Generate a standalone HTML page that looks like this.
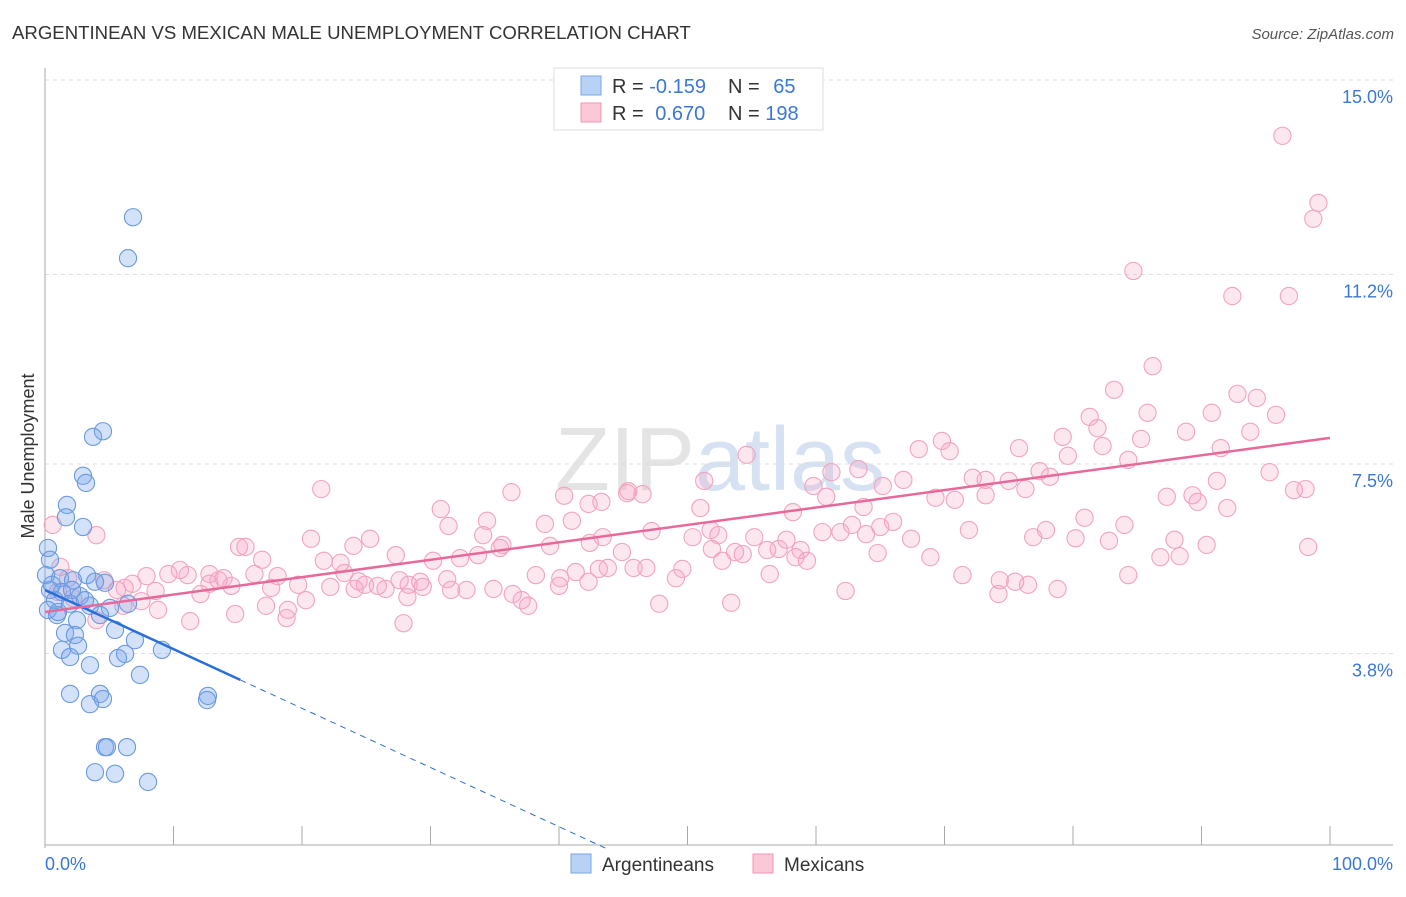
<!DOCTYPE html>
<html><head><meta charset="utf-8"><style>
body{margin:0;background:#fff;font-family:"Liberation Sans",sans-serif;}
svg text{font-family:"Liberation Sans",sans-serif;}
</style></head><body>
<svg id="chart" width="1406" height="892" xmlns="http://www.w3.org/2000/svg">
<text x="12" y="39" font-size="18.6" fill="#333">ARGENTINEAN VS MEXICAN MALE UNEMPLOYMENT CORRELATION CHART</text>
<text x="1394" y="39" font-size="15" fill="#555" font-style="italic" text-anchor="end">Source: ZipAtlas.com</text>
<text x="720" y="490" font-size="90" fill="#e4e4e4" text-anchor="middle" font-family="Liberation Serif">ZIP<tspan fill="#d6e2f2" font-family="Liberation Sans">atlas</tspan></text>
<g id="grid"></g><g id="axes"></g><g id="pinkpts"></g><g id="bluepts"></g><g id="lines"></g>
<text transform="translate(34,456) rotate(-90)" font-size="18" fill="#333" text-anchor="middle">Male Unemployment</text>
<g>
<rect x="554" y="68" width="269" height="62" fill="#fff" stroke="#ddd"/>
<rect x="581" y="76" width="20" height="19" fill="#b8d2f5" stroke="#7aa6e6"/>
<rect x="581" y="103" width="20" height="19" fill="#fbc8d8" stroke="#f095b5"/>
<text x="612" y="93" font-size="20" fill="#333">R = <tspan fill="#3a78d6">-0.159</tspan></text>
<text x="728" y="93" font-size="20" fill="#333">N = <tspan fill="#3a78d6" dx="8">65</tspan></text>
<text x="612" y="120" font-size="20" fill="#333">R = <tspan fill="#3a78d6" dx="6">0.670</tspan></text>
<text x="728" y="120" font-size="20" fill="#333">N = <tspan fill="#3a78d6">198</tspan></text>
</g>
<g>
<rect x="571" y="854" width="20" height="19" fill="#b8d2f5" stroke="#7aa6e6"/>
<text x="602" y="871" font-size="19" fill="#333">Argentineans</text>
<rect x="753" y="854" width="20" height="19" fill="#fbc8d8" stroke="#f095b5"/>
<text x="784" y="871" font-size="19" fill="#333">Mexicans</text>
</g>
</svg>
<script>
const yTicks=[3.8,7.5,11.2,15.0];
const yTickLabels=["3.8%","7.5%","11.2%","15.0%"];
const xTickCount=10;
const blueX=[6.85,6.46,4.51,3.74,2.96,3.19,1.71,1.63,2.96,0.23,0.39,0.08,1.17,2.18,3.27,4.67,3.89,0.39,1.32,2.72,0.78,1.95,3.50,5.06,6.46,0.93,2.49,4.28,1.56,2.33,5.45,7.00,1.32,2.57,1.95,3.50,5.68,6.23,9.10,7.39,1.95,4.28,4.51,3.50,12.68,12.61,4.67,4.82,6.38,3.89,5.45,8.02,0.54,0.23,1.01,3.11,2.10];
const blueY=[12.32,11.52,8.14,8.03,7.27,7.13,6.70,6.46,6.27,5.86,5.63,5.33,5.27,5.23,5.33,5.18,5.20,5.04,5.00,4.92,4.84,4.77,4.73,4.69,4.77,4.55,4.45,4.55,4.20,4.16,4.26,4.06,3.87,3.95,3.73,3.57,3.71,3.79,3.87,3.38,3.01,3.01,2.91,2.81,2.97,2.89,1.97,1.97,1.97,1.48,1.45,1.29,5.14,4.65,4.61,4.84,5.04];
const pinkX=[96.3,99.1,98.7,84.7,92.4,96.8,86.2,83.2,92.8,94.3,81.3,85.8,90.8,95.8,81.9,79.2,85.3,88.8,93.8,69.8,68.0,75.8,82.3,91.5,54.6,70.4,79.6,84.3,61.2,63.3,77.4,73.2,75.0,78.2,95.3,51.3,65.2,72.2,66.8,91.2,21.5,36.3,59.8,60.8,76.3,98.1,97.2,40.4,45.3,46.5,45.4,70.8,69.3,73.2,87.3,89.3,89.7,30.8,63.7,51.0,42.3,43.3,34.4,38.9,41.0,58.2,92.0,31.4,60.5,62.8,65.0,66.0,71.9,80.9,84.0,20.7,25.3,27.3,24.0,34.1,35.6,42.4,43.4,47.2,50.4,51.8,52.4,55.2,57.1,57.7,61.9,63.9,67.4,76.9,77.9,80.2,82.8,87.9,90.4,98.3,86.8,88.3,15.1,15.6,16.9,23.0,30.2,32.3,33.7,35.4,39.3,44.9,51.9,52.7,53.7,54.3,56.2,58.4,58.8,59.3,64.8,68.9,9.6,10.5,11.1,12.8,13.9,16.3,18.1,21.7,23.3,24.4,25.9,27.6,29.2,31.3,38.2,40.1,41.3,43.1,43.8,45.8,46.8,49.1,49.6,56.4,71.4,75.5,78.8,84.3,1.2,1.8,1.0,2.2,4.6,5.6,6.2,6.8,7.9,8.6,7.5,8.8,12.1,12.8,13.5,14.5,17.6,17.2,19.7,20.3,18.9,22.2,24.1,24.9,26.5,28.3,29.4,28.2,31.6,32.8,34.9,36.4,37.1,37.6,40.0,42.3,47.8,53.4,62.3,74.2,76.5,74.3,4.0,6.1,11.3,14.8,18.8,27.9,0.6,4.0];
const pinkY=[13.91,12.60,12.29,11.27,10.78,10.78,9.41,8.95,8.87,8.79,8.42,8.50,8.50,8.46,8.20,8.03,7.99,8.13,8.13,7.95,7.79,7.81,7.85,7.81,7.68,7.75,7.66,7.58,7.34,7.40,7.36,7.19,7.17,7.25,7.34,7.17,7.07,7.23,7.19,7.17,7.01,6.95,7.07,6.86,7.01,7.01,6.99,6.88,6.93,6.91,6.97,6.80,6.84,6.89,6.86,6.89,6.76,6.62,6.66,6.64,6.72,6.76,6.39,6.33,6.39,6.56,6.64,6.29,6.17,6.31,6.27,6.37,6.21,6.45,6.31,6.04,6.04,5.72,5.90,6.11,5.92,5.96,6.07,6.19,6.07,6.21,6.11,6.07,5.84,6.02,6.17,6.13,6.04,6.07,6.21,6.05,6.00,6.02,5.92,5.88,5.68,5.70,5.88,5.88,5.63,5.57,5.61,5.66,5.72,5.86,5.90,5.78,5.84,5.61,5.78,5.74,5.82,5.68,5.82,5.61,5.76,5.68,5.35,5.43,5.33,5.35,5.27,5.35,5.31,5.61,5.37,5.21,5.12,5.23,5.20,5.25,5.33,5.27,5.39,5.45,5.47,5.47,5.47,5.27,5.45,5.35,5.33,5.20,5.06,5.33,5.49,5.27,5.00,4.88,5.23,5.04,5.08,5.16,5.31,5.02,4.82,4.65,4.96,5.16,5.23,5.12,5.08,4.73,5.14,4.84,4.65,5.10,5.06,5.14,5.06,5.14,5.10,4.90,5.04,5.04,5.06,4.96,4.84,4.73,5.12,5.20,4.77,4.79,5.02,4.96,5.14,5.23,4.45,4.73,4.43,4.57,4.49,4.39,6.31,6.11];
const blueTrend=[5.04,-0.1156]; // intercept, slope per %
const blueSolidEnd=15.2;
const pinkTrend=[4.61,0.034];
const NS="http://www.w3.org/2000/svg";
const X0=45,X1=1330,YB=848,YS=51.2;
function sx(v){return X0+(X1-X0)*v/100;}
function sy(v){return YB-v*YS;}
function mk(tag,attrs,parent){const e=document.createElementNS(NS,tag);for(const k in attrs)e.setAttribute(k,attrs[k]);document.getElementById(parent).appendChild(e);return e;}
yTicks.forEach((t,i)=>{
 const g=mk('line',{x1:X0,x2:1393,y1:sy(t),y2:sy(t),stroke:'#ddd','stroke-dasharray':'4,4'},'grid');
 
 
 const l=mk('text',{x:1393,y:sy(t)+23,'font-size':18,fill:'#3a78d6','text-anchor':'end'},'axes');
 l.textContent=yTickLabels[i];
 
 
});
const ya=mk('line',{x1:X0,x2:X0,y1:68,y2:848,stroke:'#aaa'},'axes');


const xa=mk('line',{x1:X0,x2:1393,y1:845,y2:845,stroke:'#aaa'},'axes');


for(let i=1;i<=xTickCount;i++){const t=mk('line',{x1:sx(i*10),x2:sx(i*10),y1:826,y2:845,stroke:'#aaa'},'axes');
 
 }
const xl0=mk('text',{x:45,y:870,'font-size':18,fill:'#3a78d6'},'axes');xl0.textContent='0.0%';


const xl1=mk('text',{x:1393,y:870,'font-size':18,fill:'#3a78d6','text-anchor':'end'},'axes');xl1.textContent='100.0%';


pinkX.forEach((v,i)=>{const c=mk('circle',{cx:sx(v),cy:sy(pinkY[i]),r:8.6,fill:'rgba(246,160,190,0.25)',stroke:'#f2a3bf','stroke-width':1.1},'pinkpts');
 
 });
blueX.forEach((v,i)=>{const c=mk('circle',{cx:sx(v),cy:sy(blueY[i]),r:8.6,fill:'rgba(120,165,235,0.32)',stroke:'#6a9ae0','stroke-width':1.1},'bluepts');
 
 });
const bEnd=-blueTrend[0]/blueTrend[1];
const bl=mk('line',{x1:sx(0),y1:sy(blueTrend[0]),x2:sx(blueSolidEnd),y2:sy(blueTrend[0]+blueTrend[1]*blueSolidEnd),stroke:'#2a6fd6','stroke-width':2.5},'lines');


const bd=mk('line',{x1:sx(blueSolidEnd),y1:sy(blueTrend[0]+blueTrend[1]*blueSolidEnd),x2:sx(bEnd),y2:sy(0),stroke:'#2a6fd6','stroke-width':1,'stroke-dasharray':'6,5'},'lines');


const pl=mk('line',{x1:sx(0),y1:sy(pinkTrend[0]),x2:sx(100),y2:sy(pinkTrend[0]+pinkTrend[1]*100),stroke:'#e9689a','stroke-width':2.5},'lines');


</script>
</body></html>
